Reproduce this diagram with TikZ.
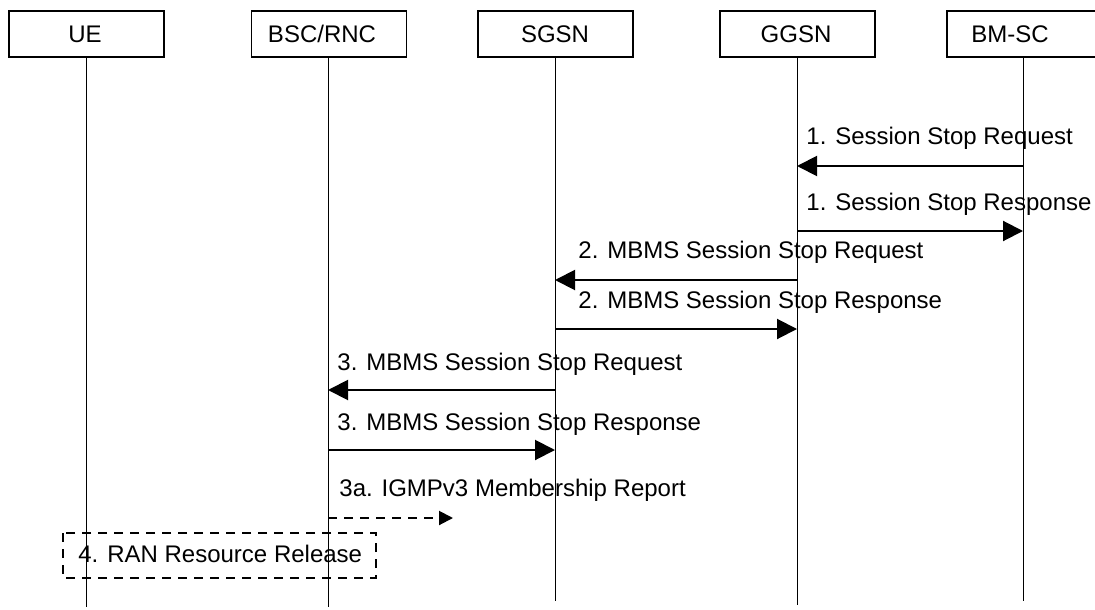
\documentclass[tikz,border=0pt]{standalone}
\usepackage{fontspec}
\setmainfont{Liberation Sans}
\usetikzlibrary{arrows.meta}
\begin{document}
\begin{tikzpicture}[x=0.5pt,y=-0.5pt,
  entity/.style={draw,line width=0.7pt,minimum width=77.5pt,minimum height=23pt,inner sep=0pt},
  etext/.style={inner sep=0pt,font=\fontsize{12}{14}\selectfont},
  life/.style={line width=0.5pt},
  msg/.style={line width=1pt,-{Triangle[length=10pt,width=10pt]}},
  dmsg/.style={line width=1pt,dash pattern=on 4.5pt off 3.5pt,-{Triangle[length=7pt,width=7pt]}},
  lbl/.style={anchor=base west,inner sep=0pt,font=\fontsize{12}{14}\selectfont},
  dbox/.style={draw,line width=0.8pt,dash pattern=on 4.5pt off 3.5pt}]
\useasboundingbox (0,0) rectangle (1095,609);
% entity boxes
\node[entity] (ue)   at (86.5,34)   {};
\node[entity] (bsc)  at (329,34) {};
\node[entity] (sgsn) at (555.5,34) {};
\node[entity] (ggsn) at (797.5,34) {};
\node[entity] (bmsc) at (1024.5,34) {};
\node[etext] (uet)   at (85,34)   {UE};
\node[etext] (bsct)  at (322,34)  {BSC/RNC};
\node[etext] (sgsnt) at (555,34)  {SGSN};
\node[etext] (ggsnt) at (796,34)  {GGSN};
\node[etext] (bmsct) at (1010,34) {BM-SC};
% lifeline ends
\coordinate (ueT)   at (86,57);
\coordinate (bscT)  at (328,57);
\coordinate (sgsnT) at (555,57);
\coordinate (ggsnT) at (797,57);
\coordinate (bmscT) at (1023,57);
\coordinate (ueE)   at (86,607);
\coordinate (bscE)  at (328,607);
\coordinate (sgsnE) at (555,601);
\coordinate (ggsnE) at (797,605);
\coordinate (bmscE) at (1023,601);
\draw[life] (ueT) -- (ueE);
\draw[life] (bscT) -- (bscE);
\draw[life] (sgsnT) -- (sgsnE);
\draw[life] (ggsnT) -- (ggsnE);
\draw[life] (bmscT) -- (bmscE);
% messages
\draw[msg] (bmscE |- 0,166) -- (ggsnE |- 0,166);
\node[lbl] (l1) at (806,145) {1. Session Stop Request};
\draw[msg] (ggsnE |- 0,231) -- (bmscE |- 0,231);
\node[lbl] (l2) at (806,210) {1. Session Stop Response};
\draw[msg] (ggsnE |- 0,280) -- (sgsnE |- 0,280);
\node[lbl] (l3) at (578,258) {2. MBMS Session Stop Request};
\draw[msg] (sgsnE |- 0,329) -- (ggsnE |- 0,329);
\node[lbl] (l4) at (578,308) {2. MBMS Session Stop Response};
\draw[msg] (sgsnE |- 0,390) -- (bscE |- 0,390);
\node[lbl] (l5) at (337,370) {3. MBMS Session Stop Request};
\draw[msg] (bscE |- 0,450) -- (sgsnE |- 0,450);
\node[lbl] (l6) at (337,430) {3. MBMS Session Stop Response};
\coordinate (dend) at (453,518);
\draw[dmsg] (bscE |- dend) -- (dend);
\node[lbl] (l7) at (339,496) {3a. IGMPv3 Membership Report};
% RAN resource release
\draw[dbox] (63,533) rectangle (376,578);
\node[lbl] (l8) at (78,562) {4. RAN Resource Release};
\end{tikzpicture}
\end{document}
